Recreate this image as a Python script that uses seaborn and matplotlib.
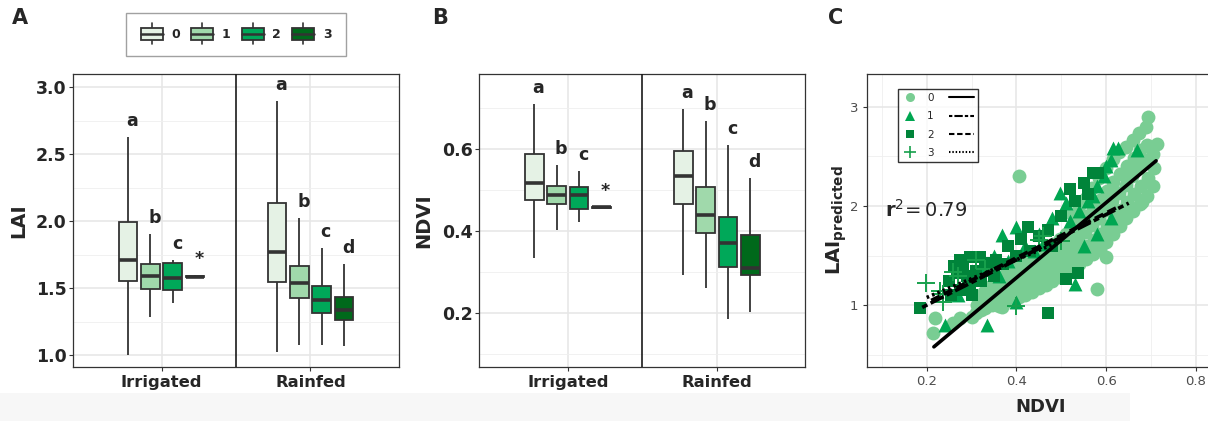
import numpy as np
import pandas as pd
import matplotlib
matplotlib.use("Agg")
import matplotlib.pyplot as plt
import seaborn as sns
from matplotlib.patches import Patch, Rectangle
from matplotlib.lines import Line2D
from matplotlib.legend_handler import HandlerBase
from matplotlib.ticker import MultipleLocator

# ---------------- data ----------------
waters = ["Irrigated", "Rainfed"]
groups = ["0", "1", "2", "3"]
box_colors = ["#e5f2e5", "#a0d9ab", "#00a859", "#00691b"]

# five-number summaries (min, Q1, median, Q3, max) for groups 0..3
lai_irrigated = [[1.005, 1.557, 1.710, 1.995, 2.630],
                 [1.288, 1.497, 1.594, 1.684, 1.905],
                 [1.390, 1.487, 1.580, 1.690, 1.711],
                 [1.578, 1.583, 1.588, 1.592, 1.597]]
lai_rainfed = [[1.025, 1.547, 1.771, 2.139, 2.900],
               [1.075, 1.428, 1.542, 1.667, 2.025],
               [1.079, 1.313, 1.413, 1.517, 1.798],
               [1.069, 1.263, 1.338, 1.437, 1.681]]
ndvi_irrigated = [[0.335, 0.476, 0.517, 0.589, 0.711],
                  [0.403, 0.467, 0.489, 0.511, 0.561],
                  [0.422, 0.455, 0.488, 0.509, 0.547],
                  [0.457, 0.4578, 0.4585, 0.459, 0.460]]
ndvi_rainfed = [[0.293, 0.467, 0.536, 0.596, 0.698],
                [0.262, 0.395, 0.441, 0.509, 0.670],
                [0.185, 0.312, 0.371, 0.435, 0.610],
                [0.202, 0.293, 0.311, 0.391, 0.531]]

letters_lai = {"Irrigated": ["a", "b", "c", "*"], "Rainfed": ["a", "b", "c", "d"]}
letters_ndvi = {"Irrigated": ["a", "b", "c", "*"], "Rainfed": ["a", "b", "c", "d"]}

# panel C scatter points
ndvi_0 = [0.215, 0.218, 0.259, 0.274, 0.300, 0.367, 0.406, 0.579, 0.600, 0.694, 0.712, 0.679,
          0.310, 0.312, 0.322, 0.318, 0.330, 0.333, 0.328, 0.345, 0.347, 0.343,
          0.360, 0.362, 0.358, 0.361, 0.375, 0.377, 0.373, 0.376,
          0.390, 0.392, 0.388, 0.391, 0.405, 0.407, 0.403, 0.406,
          0.420, 0.422, 0.418, 0.421, 0.435, 0.437, 0.433, 0.436,
          0.450, 0.452, 0.448, 0.451, 0.465, 0.467, 0.463, 0.466,
          0.480, 0.482, 0.478, 0.481, 0.495, 0.497, 0.493, 0.496,
          0.510, 0.512, 0.508, 0.511, 0.525, 0.527, 0.523, 0.526, 0.524,
          0.540, 0.542, 0.538, 0.541, 0.539, 0.555, 0.557, 0.553, 0.556, 0.554,
          0.570, 0.572, 0.568, 0.571, 0.569, 0.585, 0.587, 0.583, 0.586, 0.584,
          0.600, 0.602, 0.598, 0.601, 0.599, 0.615, 0.617, 0.613, 0.616, 0.614,
          0.630, 0.632, 0.628, 0.631, 0.629, 0.645, 0.647, 0.643, 0.646, 0.644,
          0.660, 0.662, 0.658, 0.661, 0.659, 0.675, 0.677, 0.673, 0.676, 0.674,
          0.690, 0.692, 0.688, 0.691, 0.689, 0.705, 0.707, 0.703]
lai_0 = [0.724, 0.870, 0.820, 0.870, 0.885, 0.986, 2.305, 1.170, 1.490, 2.900, 2.630, 2.040,
         0.920, 1.000, 0.950, 1.050, 0.970, 1.060, 1.140, 1.000, 1.100, 1.200,
         0.990, 1.080, 1.170, 1.270, 1.030, 1.120, 1.220, 1.330,
         1.050, 1.150, 1.260, 1.380, 1.080, 1.190, 1.300, 1.420,
         1.100, 1.220, 1.330, 1.450, 1.140, 1.260, 1.370, 1.500,
         1.180, 1.300, 1.410, 1.540, 1.210, 1.330, 1.450, 1.580,
         1.250, 1.370, 1.490, 1.620, 1.290, 1.410, 1.530, 1.670,
         1.330, 1.450, 1.580, 1.720, 1.370, 1.500, 1.630, 1.780, 1.920,
         1.420, 1.550, 1.680, 1.840, 2.000, 1.470, 1.600, 1.740, 1.900, 2.080,
         1.520, 1.660, 1.810, 1.980, 2.180, 1.570, 1.720, 1.880, 2.060, 2.280,
         1.640, 1.800, 1.960, 2.150, 2.380, 1.720, 1.880, 2.050, 2.240, 2.470,
         1.800, 1.960, 2.130, 2.320, 2.540, 1.880, 2.040, 2.210, 2.400, 2.600,
         1.950, 2.120, 2.300, 2.480, 2.670, 2.020, 2.200, 2.380, 2.560, 2.740,
         2.100, 2.280, 2.460, 2.620, 2.800, 2.200, 2.380, 2.520]

ndvi_1 = [0.241, 0.334, 0.400, 0.530, 0.616, 0.627, 0.668, 0.610, 0.497, 0.510, 0.400, 0.367,
          0.480, 0.450, 0.610, 0.579, 0.550, 0.300, 0.330, 0.350, 0.420, 0.440, 0.460, 0.520,
          0.540, 0.560, 0.580, 0.595, 0.600, 0.570, 0.380, 0.280, 0.270, 0.360]
lai_1 = [0.800, 0.800, 1.030, 1.220, 2.580, 2.580, 2.560, 2.460, 2.130, 2.030, 1.790, 1.710,
         1.880, 1.720, 1.880, 1.720, 1.600, 1.350, 1.400, 1.500, 1.600, 1.550, 1.620, 1.850,
         1.950, 2.050, 2.200, 2.300, 2.400, 2.100, 1.450, 1.200, 1.100, 1.300]

ndvi_2 = [0.184, 0.470, 0.536, 0.510, 0.582, 0.570, 0.550, 0.520, 0.426, 0.296, 0.274, 0.318,
          0.330, 0.267, 0.290, 0.274, 0.296, 0.355, 0.380, 0.410, 0.450, 0.470, 0.250, 0.260,
          0.280, 0.310, 0.320, 0.300, 0.340, 0.350, 0.370, 0.400, 0.430, 0.255, 0.500, 0.530,
          0.560, 0.480]
lai_2 = [0.970, 0.920, 1.330, 1.270, 2.330, 2.330, 2.230, 2.170, 1.790, 1.490, 1.460, 1.490,
         1.430, 1.330, 1.300, 1.160, 1.200, 1.460, 1.600, 1.670, 1.700, 1.760, 1.250, 1.400,
         1.380, 1.350, 1.250, 1.100, 1.350, 1.300, 1.420, 1.500, 1.550, 1.100, 1.900, 2.050,
         2.120, 1.600]

ndvi_3 = [0.199, 0.237, 0.237, 0.259, 0.400, 0.450, 0.310, 0.230, 0.270, 0.330, 0.460, 0.500]
lai_3 = [1.230, 1.120, 1.030, 1.340, 0.990, 1.660, 1.460, 1.150, 1.300, 1.370, 1.700, 1.650]

point_colors = ["#79cd93", "#00a651", "#00843a", "#17a04c"]

# fitted lines per group (end points)
fit_group = ["0", "0", "1", "1", "2", "2", "3", "3"]
fit_ndvi = [0.216, 0.711, 0.190, 0.650, 0.210, 0.630, 0.200, 0.500]
fit_lai = [0.583, 2.456, 0.980, 2.030, 1.050, 2.000, 1.080, 1.650]
fit_dashes = {"0": "", "1": (1.6, 1.0, 4.0, 1.0), "2": (2.6, 1.3), "3": (0.7, 0.9)}

r2_label = r"$\mathbf{r}^{2}\!=0.79$"

# ---------------- frames ----------------
rows = []
for w, lai_sets, ndvi_sets in [("Irrigated", lai_irrigated, ndvi_irrigated),
                               ("Rainfed", lai_rainfed, ndvi_rainfed)]:
    for g, lv, nv in zip(groups, lai_sets, ndvi_sets):
        for a, b in zip(lv, nv):
            rows.append({"water": w, "group": g, "LAI": a, "NDVI": b})
box_df = pd.DataFrame(rows)

scat = pd.concat([
    pd.DataFrame({"NDVI": ndvi_0, "LAI": lai_0, "group": "0"}),
    pd.DataFrame({"NDVI": ndvi_1, "LAI": lai_1, "group": "1"}),
    pd.DataFrame({"NDVI": ndvi_2, "LAI": lai_2, "group": "2"}),
    pd.DataFrame({"NDVI": ndvi_3, "LAI": lai_3, "group": "3"}),
])
fit_df = pd.DataFrame({"NDVI": fit_ndvi, "LAI": fit_lai, "group": fit_group})

# ---------------- style ----------------
sns.set_style("white")
plt.rcParams["font.family"] = ["DejaVu Sans"]
plt.rcParams["mathtext.fontset"] = "dejavusans"

W, H = 1208, 421
fig = plt.figure(figsize=(W / 100, H / 100), dpi=100)

def fx(px):
    return px / W

def fy(py):
    return 1 - py / H

fig.patches.append(Rectangle((0, 0), fx(1130), 28 / H, transform=fig.transFigure,
                             facecolor="#f7f7f7", edgecolor="none", zorder=-5))

axA = fig.add_axes([fx(73), fy(367), fx(326), 293 / H])
axB = fig.add_axes([fx(479.3), fy(367), fx(326), 293 / H])
axC = fig.add_axes([fx(866.7), fy(367), fx(347.3), 293 / H])

EDGE = "#333333"


def style_frame(ax):
    for s in ax.spines.values():
        s.set_visible(True)
        s.set_color(EDGE)
        s.set_linewidth(0.9)
    ax.set_axisbelow(True)
    ax.grid(True, which="major", color="#e6e6e6", lw=1.1)
    ax.grid(True, which="minor", color="#efefef", lw=0.6)
    ax.tick_params(which="major", length=3, width=0.8, color=EDGE, direction="out",
                   bottom=True, left=True)
    ax.tick_params(which="minor", length=0)


def box_panel(ax, var, ylim, major, minor, letters):
    sns.boxplot(data=box_df, x="water", y=var, hue="group", order=waters, hue_order=groups,
                palette=box_colors, width=0.6, gap=0.16, whis=(0, 100), saturation=1,
                linecolor=EDGE, linewidth=1.3, showcaps=False, fliersize=0,
                medianprops={"linewidth": 2.6, "color": EDGE}, legend=False, ax=ax)
    style_frame(ax)
    ax.grid(False, axis="x", which="minor")
    ax.set_xlim(-0.595, 1.595)
    ax.set_ylim(*ylim)
    ax.yaxis.set_major_locator(MultipleLocator(major))
    ax.yaxis.set_minor_locator(MultipleLocator(minor))
    ax.axvline(0.5, color="#1a1a1a", lw=1.2, zorder=5)
    ax.set_xlabel("")
    ax.tick_params(axis="y", labelsize=12.5, pad=1.5)
    ax.tick_params(axis="x", labelsize=11.8, pad=3)
    for lab in ax.get_xticklabels() + ax.get_yticklabels():
        lab.set_fontweight("bold")
    for wi, w in enumerate(waters):
        for gi, g in enumerate(groups):
            top = box_df[(box_df.water == w) & (box_df.group == g)][var].max()
            xpos = wi + (gi - 1.5) * 0.15
            ax.annotate(letters[w][gi], (xpos, top), xytext=(3, 5),
                        textcoords="offset points", ha="center", va="bottom",
                        fontsize=12.5, fontweight="bold")


box_panel(axA, "LAI", (0.913, 3.1), 0.5, 0.25, letters_lai)
axA.yaxis.set_major_formatter(matplotlib.ticker.FormatStrFormatter("%.1f"))
axA.set_ylabel("LAI", fontsize=14, fontweight="bold")
axA.yaxis.set_label_coords(-0.137, 0.5)

box_panel(axB, "NDVI", (0.069, 0.784), 0.2, 0.1, letters_ndvi)
axB.yaxis.set_major_formatter(matplotlib.ticker.FormatStrFormatter("%.1f"))
axB.set_ylabel("NDVI", fontsize=14, fontweight="bold")
axB.yaxis.set_label_coords(-0.142, 0.5)

# ---------------- panel C ----------------
sizes = {"0": 100, "1": 100, "2": 72}
marks = {"0": "o", "1": "^", "2": "s"}
for gi, g in enumerate(groups[:3]):
    sns.scatterplot(data=scat[scat.group == g], x="NDVI", y="LAI", marker=marks[g],
                    s=sizes[g], color=point_colors[gi], linewidth=0, legend=False, ax=axC)
sns.scatterplot(data=scat[scat.group == "3"], x="NDVI", y="LAI", marker="+", s=170,
                color=point_colors[3], linewidth=1.4, legend=False, ax=axC)
sns.lineplot(data=fit_df, x="NDVI", y="LAI", style="group", dashes=fit_dashes,
             units="group", estimator=None, sort=False, color="black", lw=2.6,
             legend=False, ax=axC)
style_frame(axC)
axC.spines["right"].set_visible(False)
axC.set_xlim(0.0663, 0.84)
axC.set_ylim(0.38, 3.33)
axC.xaxis.set_major_locator(MultipleLocator(0.2))
axC.xaxis.set_minor_locator(MultipleLocator(0.1))
axC.yaxis.set_major_locator(MultipleLocator(1))
axC.yaxis.set_minor_locator(MultipleLocator(0.5))
axC.xaxis.set_major_formatter(matplotlib.ticker.FormatStrFormatter("%.1f"))
axC.yaxis.set_major_formatter(matplotlib.ticker.FormatStrFormatter("%d"))
axC.tick_params(labelsize=9.5, labelcolor="#4d4d4d", pad=3)
axC.set_xlabel("NDVI", fontsize=13, fontweight="bold")
axC.xaxis.set_label_coords(0.5, -0.105)
axC.set_ylabel(r"$\mathbf{LAI}_{\mathbf{predicted}}$", fontsize=14)
axC.yaxis.set_label_coords(-0.052, 0.5)
axC.text(0.198, 1.96, r2_label, fontsize=14, ha="center", va="center")


class LongLine(HandlerBase):
    def __init__(self, dashes):
        super().__init__()
        self.dashes = dashes

    def create_artists(self, legend, orig, xd, yd, w, h, fs, trans):
        y = -yd + h / 2
        ln = Line2D([-xd, -xd + 1.5 * w], [y, y], color="black", lw=1.5, transform=trans)
        if self.dashes:
            ln.set_dashes(self.dashes)
        return [ln]


mhandles = [Line2D([], [], ls="", marker="o", ms=6.5, mew=0, color=point_colors[0]),
            Line2D([], [], ls="", marker="^", ms=7, mew=0, color=point_colors[1]),
            Line2D([], [], ls="", marker="s", ms=5.5, mew=0, color=point_colors[2]),
            Line2D([], [], ls="", marker="+", ms=9, mew=1.2, color=point_colors[3])]
lhandles = [Line2D([], [], color="black") for _ in groups]
hmap = {h: LongLine(fit_dashes[g]) for h, g in zip(lhandles, groups)}
legC = axC.legend(mhandles + lhandles, groups + [""] * 4, ncol=2, loc="upper left",
                  bbox_to_anchor=(0.09, 0.949), frameon=True, fancybox=False,
                  edgecolor="black", fontsize=7.5, handlelength=1.6, handletextpad=0.8,
                  columnspacing=1.45, borderpad=0.4, labelspacing=0.8, handler_map=hmap,
                  borderaxespad=0)
legC.get_frame().set_linewidth(1.0)


# ---------------- top legend ----------------
class BoxGlyph(HandlerBase):
    def create_artists(self, legend, orig, xd, yd, w, h, fs, trans):
        fc = orig.get_facecolor()
        x0, y0 = -xd, -yd
        cx, cy = x0 + w / 2, y0 + h / 2
        w1 = Line2D([cx, cx], [y0 + h, y0 + h + 0.4 * h], color=EDGE, lw=1.2, transform=trans)
        w2 = Line2D([cx, cx], [y0, y0 - 0.4 * h], color=EDGE, lw=1.2, transform=trans)
        rect = Rectangle((x0, y0), w, h, facecolor=fc, edgecolor=EDGE, lw=1.3, transform=trans)
        med = Line2D([x0, x0 + w], [cy, cy], color=EDGE, lw=1.8, transform=trans)
        return [w1, w2, rect, med]


bh = [Patch(facecolor=c) for c in box_colors]
legTop = fig.legend(bh, groups, handler_map={Patch: BoxGlyph()}, ncol=4, loc="center",
                    bbox_to_anchor=(fx(236), fy(34.5)), frameon=True, fancybox=False,
                    edgecolor="#8a8a8a", prop={"size": 9, "weight": "bold"},
                    handlelength=1.76, handleheight=1.05, handletextpad=0.68,
                    columnspacing=0.9, borderpad=1.2)
legTop.get_frame().set_linewidth(1.0)

# panel tags
for tag, px in [("A", 20), ("B", 440), ("C", 836)]:
    fig.text(fx(px), fy(17.5), tag, fontsize=15, fontweight="bold", ha="center", va="center")

fig.savefig("out.png", dpi=100)
